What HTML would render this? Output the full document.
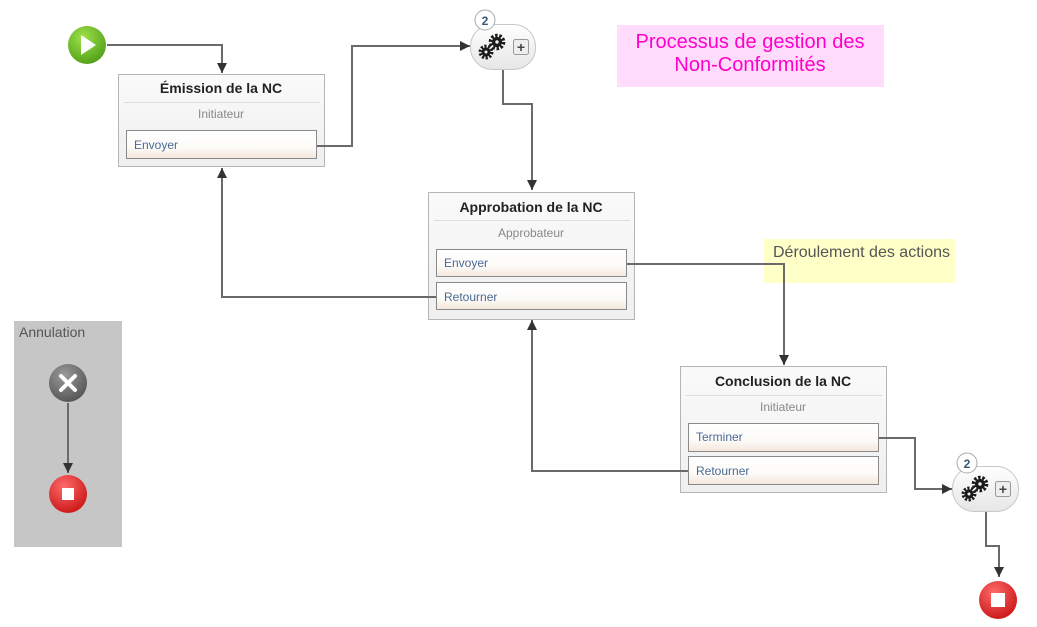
<!DOCTYPE html>
<html><head><meta charset="utf-8"><style>
html,body{margin:0;padding:0;background:#fff;width:1037px;height:627px;overflow:hidden}
svg{display:block;font-family:"Liberation Sans",Arial,sans-serif}
</style></head><body>
<svg width="1037" height="627" viewBox="0 0 1037 627" xmlns="http://www.w3.org/2000/svg">
<defs>
<linearGradient id="box" x1="0" y1="0" x2="0" y2="1"><stop offset="0" stop-color="#fafafa"/><stop offset="1" stop-color="#efefef"/></linearGradient>
<linearGradient id="btn" x1="0" y1="0" x2="0" y2="1"><stop offset="0" stop-color="#ffffff"/><stop offset="0.6" stop-color="#fdfbf8"/><stop offset="1" stop-color="#f3e6dc"/></linearGradient>
<radialGradient id="green" cx="0.4" cy="0.3" r="0.8"><stop offset="0" stop-color="#9ee04a"/><stop offset="1" stop-color="#4a9a14"/></radialGradient>
<radialGradient id="red" cx="0.4" cy="0.3" r="0.8"><stop offset="0" stop-color="#ff6a6a"/><stop offset="1" stop-color="#c50f0f"/></radialGradient>
<radialGradient id="grey" cx="0.4" cy="0.3" r="0.8"><stop offset="0" stop-color="#9a9a9a"/><stop offset="1" stop-color="#4e4e4e"/></radialGradient>
<linearGradient id="pill" x1="0" y1="0" x2="0" y2="1"><stop offset="0" stop-color="#ffffff"/><stop offset="1" stop-color="#e6e6e6"/></linearGradient>
<marker id="ar" viewBox="0 0 10 10" refX="10" refY="5" markerWidth="10" markerHeight="10" markerUnits="userSpaceOnUse" orient="auto"><path d="M0,0 L10,5 L0,10 z" fill="#333"/></marker>
<g id="gear">
  <circle cx="0" cy="0" r="7" fill="none" stroke="#1a1a1a" stroke-width="3.5" stroke-dasharray="2.6 1.8"/>
  <circle cx="0" cy="0" r="5.4" fill="#1a1a1a"/><circle cx="0" cy="0" r="1.8" fill="#eee"/>
</g>
</defs>

<!-- notes -->
<rect x="617" y="25" width="267" height="62" fill="#ffdcfc"/>
<text x="750" y="48" font-size="20" fill="#ff00cc" text-anchor="middle">Processus de gestion des</text>
<text x="750" y="71" font-size="20" fill="#ff00cc" text-anchor="middle">Non-Conformités</text>
<rect x="764" y="239" width="191" height="44" fill="#ffffc8"/>
<text x="773" y="257" font-size="16" fill="#555">Déroulement des actions</text>

<!-- annulation -->
<rect x="14" y="321" width="108" height="226" fill="#c6c6c6"/>
<text x="19" y="337" font-size="14" fill="#555">Annulation</text>

<!-- Emission -->
<rect x="118.5" y="74.5" width="206" height="92" fill="url(#box)" stroke="#b5b5b5"/>
<line x1="124" y1="102.5" x2="320" y2="102.5" stroke="#ddd"/>
<text x="221" y="93" font-size="14" font-weight="bold" fill="#222" text-anchor="middle">Émission de la NC</text>
<text x="221" y="118" font-size="12" fill="#888" text-anchor="middle">Initiateur</text>
<rect x="126.5" y="130.5" width="190" height="28" fill="url(#btn)" stroke="#8a8a8a"/>
<text x="134" y="149" font-size="12" fill="#4a6a96">Envoyer</text>

<!-- Approbation -->
<rect x="428.5" y="192.5" width="206" height="127" fill="url(#box)" stroke="#b5b5b5"/>
<line x1="434" y1="220.5" x2="630" y2="220.5" stroke="#ddd"/>
<text x="531" y="212" font-size="14" font-weight="bold" fill="#222" text-anchor="middle">Approbation de la NC</text>
<text x="531" y="237" font-size="12" fill="#888" text-anchor="middle">Approbateur</text>
<rect x="436.5" y="249.5" width="190" height="27" fill="url(#btn)" stroke="#8a8a8a"/>
<text x="444" y="267" font-size="12" fill="#4a6a96">Envoyer</text>
<rect x="436.5" y="282.5" width="190" height="27" fill="url(#btn)" stroke="#8a8a8a"/>
<text x="444" y="301" font-size="12" fill="#4a6a96">Retourner</text>

<!-- Conclusion -->
<rect x="680.5" y="366.5" width="206" height="126" fill="url(#box)" stroke="#b5b5b5"/>
<line x1="686" y1="395.5" x2="882" y2="395.5" stroke="#ddd"/>
<text x="783" y="386" font-size="14" font-weight="bold" fill="#222" text-anchor="middle">Conclusion de la NC</text>
<text x="783" y="411" font-size="12" fill="#888" text-anchor="middle">Initiateur</text>
<rect x="688.5" y="423.5" width="190" height="28" fill="url(#btn)" stroke="#8a8a8a"/>
<text x="696" y="441" font-size="12" fill="#4a6a96">Terminer</text>
<rect x="688.5" y="456.5" width="190" height="28" fill="url(#btn)" stroke="#8a8a8a"/>
<text x="696" y="475" font-size="12" fill="#4a6a96">Retourner</text>

<!-- connectors -->
<g fill="none" stroke="#6a6a6a" stroke-width="2">
<polyline points="107,45 222,45 222,73" marker-end="url(#ar)"/>
<polyline points="317,146 352,146 352,46 470,46" marker-end="url(#ar)"/>
<polyline points="503,69 503,104 532,104 532,190" marker-end="url(#ar)"/>
<polyline points="436,297 222,297 222,168" marker-end="url(#ar)"/>
<polyline points="627,264 784,264 784,365" marker-end="url(#ar)"/>
<polyline points="688,471 532,471 532,320" marker-end="url(#ar)"/>
<polyline points="879,438 915,438 915,489 952,489" marker-end="url(#ar)"/>
<polyline points="986,512 986,546 999,546 999,577" marker-end="url(#ar)"/>
<polyline points="68,403 68,473" marker-end="url(#ar)"/>
</g>

<!-- start -->
<circle cx="87" cy="45" r="19" fill="url(#green)"/>
<path d="M81,35 L96,45 L81,55 z" fill="#fff"/>

<!-- gear node 1 -->
<rect x="470.5" y="24.5" width="65" height="45" rx="22" fill="url(#pill)" stroke="#c8c8c8"/>
<use href="#gear" transform="translate(486,52) scale(0.85)"/>
<use href="#gear" transform="translate(497,42) scale(0.95)"/>
<rect x="513.5" y="39.5" width="15" height="15" rx="2" fill="#eee" stroke="#999"/>
<text x="521" y="52" font-size="14" font-weight="bold" fill="#444" text-anchor="middle">+</text>
<circle cx="485" cy="20" r="10" fill="#fff" stroke="#aaa"/>
<text x="485" y="25" font-size="12" font-weight="bold" fill="#3b5870" text-anchor="middle">2</text>

<!-- gear node 2 -->
<rect x="952.5" y="466.5" width="66" height="45" rx="22" fill="url(#pill)" stroke="#c8c8c8"/>
<use href="#gear" transform="translate(969,494) scale(0.85)"/>
<use href="#gear" transform="translate(980,484) scale(0.95)"/>
<rect x="995.5" y="481.5" width="15" height="15" rx="2" fill="#eee" stroke="#999"/>
<text x="1003" y="494" font-size="14" font-weight="bold" fill="#444" text-anchor="middle">+</text>
<circle cx="967" cy="463" r="10" fill="#fff" stroke="#aaa"/>
<text x="967" y="468" font-size="12" font-weight="bold" fill="#3b5870" text-anchor="middle">2</text>

<!-- end -->
<circle cx="998" cy="600" r="19" fill="url(#red)"/>
<rect x="991" y="593" width="14" height="14" fill="#fff"/>

<!-- annulation icons -->
<circle cx="68" cy="383" r="19" fill="url(#grey)"/>
<path d="M61,376 L75,390 M75,376 L61,390" stroke="#fff" stroke-width="4" stroke-linecap="round"/>
<circle cx="68" cy="494" r="19" fill="url(#red)"/>
<rect x="62" y="488" width="12" height="12" fill="#fff"/>
</svg>
</body></html>
